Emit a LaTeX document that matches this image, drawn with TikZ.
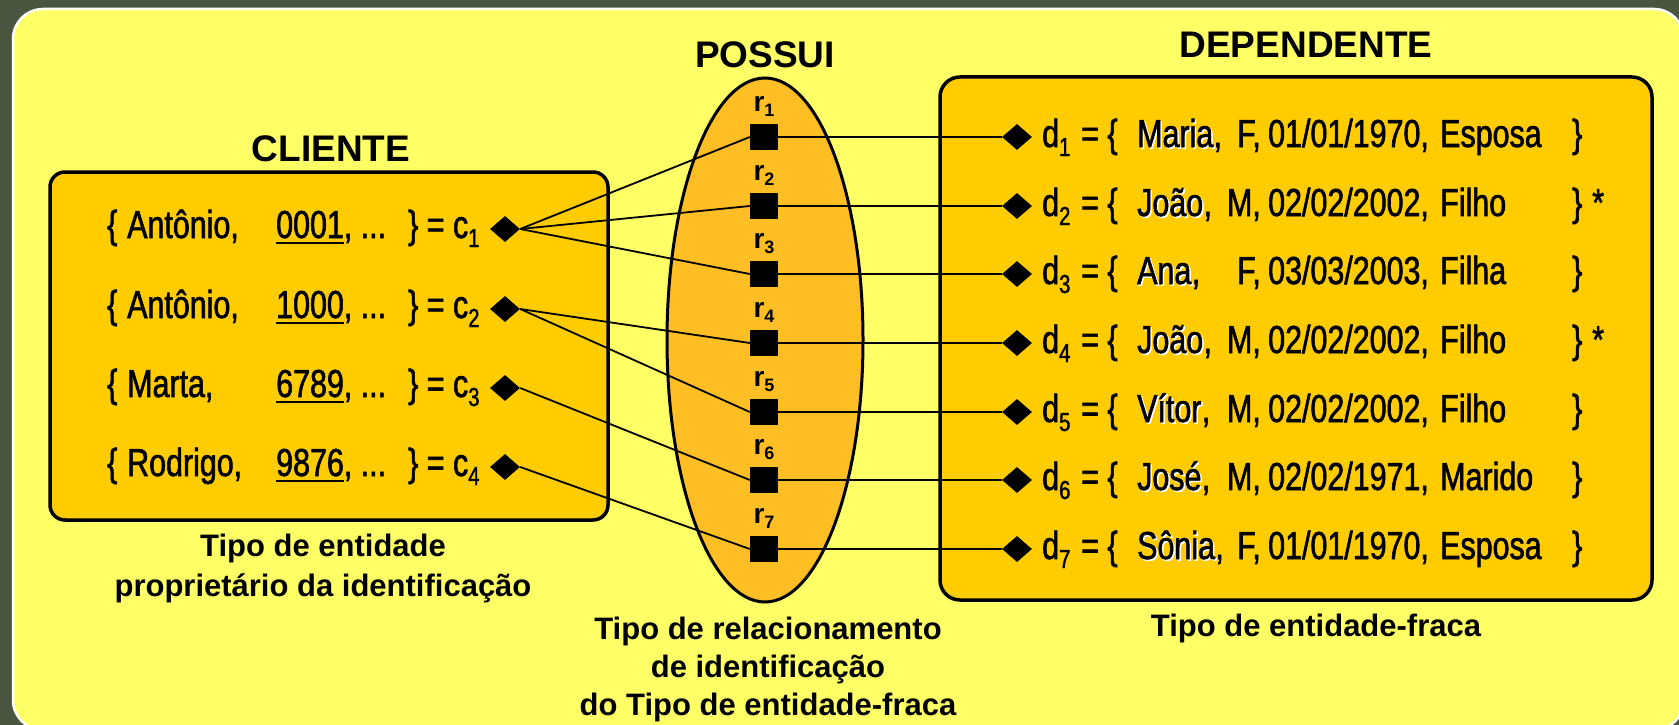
\documentclass[tikz,border=0pt]{standalone}
\usepackage{fontspec}
\setmainfont{Liberation Sans}
\newfontfamily\narrowfont[FakeStretch=0.78,FakeBold=1.5]{Liberation Sans}
\usetikzlibrary{shapes.geometric}
\definecolor{bgdark}{RGB}{74,85,64}
\definecolor{panel}{RGB}{255,255,102}
\definecolor{boxfill}{RGB}{255,204,0}
\definecolor{ellfill}{RGB}{255,190,35}
\newcommand\myul[1]{\setbox0\hbox{#1}\rlap{\rule[-6pt]{\wd0}{2pt}}\box0}
\newcommand\setsub[1]{\raisebox{-9pt}{\fontsize{26}{26}\selectfont #1}}
\newcommand\relsub[1]{\raisebox{-5pt}{\fontsize{18}{18}\selectfont\bfseries #1}}
\tikzset{
  title/.style={font=\fontsize{37}{44}\selectfont\bfseries, anchor=base, inner sep=0pt},
  caption/.style={font=\fontsize{31}{38}\selectfont\bfseries, anchor=base, inner sep=0pt},
  settext/.style={font=\narrowfont\fontsize{39}{46}\selectfont, anchor=base west, inner sep=0pt},
  rlabel/.style={font=\fontsize{28}{32}\selectfont\bfseries, anchor=base, inner sep=0pt},
  sqr/.style={fill=black, minimum width=28pt, minimum height=26pt, inner sep=0pt},
  dia/.style={diamond, fill=black, minimum width=30pt, minimum height=26pt, inner sep=0pt},
  conn/.style={line width=1.8pt},
  boxst/.style={draw=black, line width=3.5pt, fill=boxfill},
}
% client row: index, y, name, number
\newcommand\clirow[4]{%
  \node[dia] (cd#1) at (505,#2) {};
  \node[settext] (cb#1) at (107,#2+9) {\{};
  \node[settext] (cn#1) at (127,#2+9) {#3};
  \node[settext] (cu#1) at (276,#2+9) {\myul{#4}, ...};
  \node[settext] (ce#1) at (408,#2+9) {\} = c\setsub{#1}};
}
% dependent row: index, y, name, sex, date, relation
\newcommand\deprow[6]{%
  \node[dia] (dd#1) at (1017,#2) {};
  \node[settext] (dl#1) at (1042,#2+10) {d\setsub{#1}};
  \node[settext] (de#1) at (1081,#2+10) {= \{};
  \node[settext, text=white] (dsh#1) at (1138.5,#2+11.5) {#3};
  \node[settext] (dn#1) at (1137,#2+10) {#3};
  \node[settext] (dk#1) at (dn#1.base east) {,};
  \node[settext, anchor=base east] (dx#1) at (1261,#2+10) {#4,};
  \node[settext] (dt#1) at (1268,#2+10) {#5,};
  \node[settext] (dr#1) at (1440,#2+10) {#6};
  \node[settext] (db#1) at (1572,#2+10) {\}};
}
\begin{document}
\begin{tikzpicture}[x=1pt,y=-1pt]
\useasboundingbox (0,0) rectangle (1679,725);
\clip (0,0) rectangle (1679,725);
\fill[bgdark] (0,0) rectangle (1679,725);
\draw[white, line width=2.5pt, fill=panel, rounded corners=30pt] (13,9) rectangle (1684,730);

% boxes
\draw[boxst, rounded corners=15pt] (50,172) rectangle (608,520);
\draw[boxst, rounded corners=20pt] (940,77) rectangle (1652,600);
\draw[line width=3pt, fill=ellfill] (765,340) ellipse [x radius=98pt, y radius=262pt];

% titles
\node[title] (tcli) at (331,161) {CLIENTE};
\node[title] (tpos) at (765,68) {POSSUI};
\node[title] (tdep) at (1306,58) {DEPENDENTE};

% client rows
\clirow{1}{229}{Antônio,}{0001}
\clirow{2}{309}{Antônio,}{1000}
\clirow{3}{388}{Marta,}{6789}
\clirow{4}{467}{Rodrigo,}{9876}

% relationship squares
\foreach \i/\y in {1/137,2/206,3/274,4/343,5/412,6/480,7/549}{
  \node[sqr] (rs\i) at (764,\y) {};
  \node[rlabel] (rl\i) at (764,\y-26) {r\relsub{\i}};
}

% dependent rows
\deprow{1}{137}{Maria}{F}{01/01/1970}{Esposa}
\deprow{2}{206}{João}{M}{02/02/2002}{Filho}
\deprow{3}{274}{Ana}{F}{03/03/2003}{Filha}
\deprow{4}{343}{João}{M}{02/02/2002}{Filho}
\deprow{5}{412}{Vítor}{M}{02/02/2002}{Filho}
\deprow{6}{480}{José}{M}{02/02/1971}{Marido}
\deprow{7}{549}{Sônia}{F}{01/01/1970}{Esposa}
\node[settext] (ds2) at (1592,216) {*};
\node[settext] (ds4) at (1592,353) {*};

% connectors
\foreach \a/\b in {1/1,1/2,1/3,2/4,2/5,3/6,4/7}
  \draw[conn] (cd\a.east) -- (rs\b.west);
\foreach \i in {1,...,7}
  \draw[conn] (rs\i.east) -- (dd\i.west);

% captions
\node[caption] (capc1) at (323,556) {Tipo de entidade};
\node[caption] (capc2) at (323,596) {proprietário da identificação};
\node[caption] (capr1) at (768,639) {Tipo de relacionamento};
\node[caption] (capr2) at (768,677) {de identificação};
\node[caption] (capr3) at (768,715) {do Tipo de entidade-fraca};
\node[caption] (capd) at (1316,636) {Tipo de entidade-fraca};
\end{tikzpicture}
\end{document}
